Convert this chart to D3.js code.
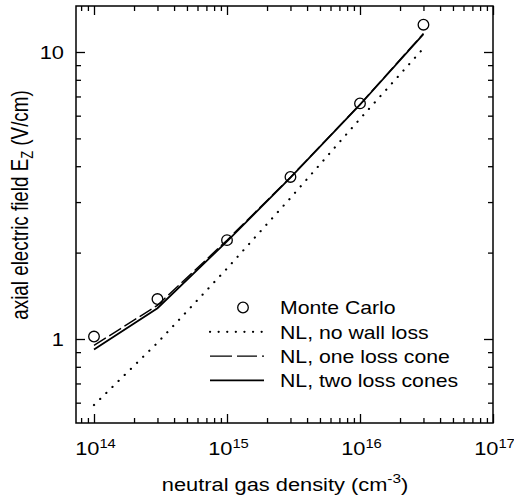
<!DOCTYPE html>
<html>
<head>
    <meta charset="utf-8">
    <title>Axial field vs neutral density</title>
    <script type="text/javascript" src="https://cdn.jsdelivr.net/npm/d3@7"></script>
    <style>
        body { margin: 0; background: #fff; }
        text { font-family: "Liberation Sans", Arial, Helvetica, sans-serif; fill: #000; }
    </style>
</head>

<body>

<script type="text/javascript">
    // data
    var density = [1e14, 3e14, 1e15, 3e15, 1e16, 3e16];
    var monteCarlo = [1.02, 1.378, 2.21, 3.67, 6.62, 12.45];
    var noWallLoss = [0.589, 0.97, 1.76, 3.1, 5.85, 10.3];
    var oneLossCone = [0.95, 1.31, 2.21, 3.66, 6.57, 11.6];
    var twoLossCones = [0.92, 1.28, 2.19, 3.65, 6.55, 11.55];

    var xMajor = [1e14, 1e15, 1e16, 1e17],
        xExponents = ["14", "15", "16", "17"];
    var yMajor = [1, 10],
        yTickLabels = ["1", "10"];
    var legendLabels = ["Monte Carlo", "NL, no wall loss", "NL, one loss cone", "NL, two loss cones"];

    var width = 514,
            height = 501,
            plotL = 76, plotR = 493, plotT = 6, plotB = 423,
            sx = 1.18,
            fontSize = 18.5;

    var svg = d3.select("body").append("svg")
            .attr("width", width)
            .attr("height", height);

    var x = d3.scaleLog()
            .domain([Math.pow(10, 14 - 18 / 133), 1e17])
            .range([plotL, plotR]);

    var y = d3.scaleLog()
            .domain([Math.pow(10, -84 / 287), Math.pow(10, 1 + 46 / 287)])
            .range([plotB, plotT]);

    function minors(lo, hi) {
        var out = [];
        for (var d = -1; d <= 17; d++) {
            for (var k = 2; k <= 9; k++) {
                var v = k * Math.pow(10, d);
                if (v > lo && v < hi) out.push(v);
            }
        }
        return out;
    }

    var xMinor = minors(x.domain()[0], x.domain()[1]);
    var yMinor = minors(y.domain()[0], y.domain()[1]);

    // ticks on all four sides, pointing inward
    function ticks(axisFn, scale, values, size, tx, ty) {
        var g = svg.append("g")
                .attr("transform", "translate(" + tx + "," + ty + ")")
                .call(axisFn(scale).tickValues(values).tickSize(size).tickFormat(""));
        g.select(".domain").remove();
        g.selectAll("line").attr("stroke", "#000").attr("stroke-width", 1.3);
    }
    ticks(d3.axisBottom, x, xMajor, -9, 0, plotB);
    ticks(d3.axisBottom, x, xMinor, -5, 0, plotB);
    ticks(d3.axisTop, x, xMajor, -9, 0, plotT);
    ticks(d3.axisTop, x, xMinor, -5, 0, plotT);
    ticks(d3.axisLeft, y, yMajor, -9, plotL, 0);
    ticks(d3.axisLeft, y, yMinor, -5, plotL, 0);
    ticks(d3.axisRight, y, yMajor, -9, plotR, 0);
    ticks(d3.axisRight, y, yMinor, -5, plotR, 0);

    svg.append("rect")
            .attr("x", plotL).attr("y", plotT)
            .attr("width", plotR - plotL).attr("height", plotB - plotT)
            .attr("fill", "none").attr("stroke", "#000").attr("stroke-width", 1.5);

    // stretched text helper
    function label(px, py, anchor, rot, stretch, size) {
        return svg.append("text")
                .attr("transform", "translate(" + px + "," + py + ") scale(" + (stretch || sx) + ",1)" + (rot ? " rotate(" + rot + ")" : ""))
                .attr("text-anchor", anchor)
                .style("font-size", (size || fontSize) + "px");
    }

    xMajor.forEach(function (v, i) {
        var t = label(x(v) + 1.5, 455, "middle");
        t.append("tspan").text("10");
        t.append("tspan").attr("dy", -7).style("font-size", "12.5px").text(xExponents[i]);
    });

    yMajor.forEach(function (v, i) {
        label(64, y(v) + 6.5, "end").text(yTickLabels[i]);
    });

    var xt = label(285, 491, "middle");
    xt.append("tspan").text("neutral gas density (cm");
    xt.append("tspan").attr("dy", -8).style("font-size", "13px").text("-3");
    xt.append("tspan").attr("dy", 8).text(")");

    var yt = label(28, 205, "middle", -90, 1.3, 18.8);
    yt.append("tspan").text("axial electric field E");
    yt.append("tspan").attr("dy", 4).style("font-size", "13px").text("Z");
    yt.append("tspan").attr("dy", -4).text(" (V/cm)");

    // curves
    var line = d3.line()
            .x(function (d) { return x(d[0]); })
            .y(function (d) { return y(d[1]); });

    function curve(values, dash, w, cap) {
        svg.append("path")
                .datum(d3.zip(density, values))
                .attr("d", line)
                .attr("fill", "none")
                .attr("stroke", "#000")
                .attr("stroke-width", w)
                .attr("stroke-linecap", cap)
                .attr("stroke-dasharray", dash);
    }
    curve(noWallLoss, "0.1,8.5", 2.2, "round");
    curve(oneLossCone, "14,4", 1.4, "butt");
    curve(twoLossCones, null, 1.8, "butt");

    svg.append("g").selectAll("circle")
            .data(d3.zip(density, monteCarlo))
            .enter()
            .append("circle")
            .attr("cx", function (d) { return x(d[0]); })
            .attr("cy", function (d) { return y(d[1]); })
            .attr("r", 5.3)
            .attr("fill", "none")
            .attr("stroke", "#000")
            .attr("stroke-width", 1.3);

    // legend
    var lx0 = 210, lx1 = 264, ly0 = 307.5, ldy = 24.3;
    svg.append("circle")
            .attr("cx", 243).attr("cy", ly0).attr("r", 5.3)
            .attr("fill", "none").attr("stroke", "#000").attr("stroke-width", 1.3);
    var legendStyles = [null, ["0.1,8.5", 2.2, "round"], ["22,5,20,5,2", 1.4, "butt"], [null, 1.8, "butt"]];
    legendStyles.forEach(function (s, i) {
        if (!s) return;
        svg.append("line")
                .attr("x1", lx0).attr("x2", lx1)
                .attr("y1", ly0 + i * ldy).attr("y2", ly0 + i * ldy)
                .attr("stroke", "#000")
                .attr("stroke-width", s[1])
                .attr("stroke-linecap", s[2])
                .attr("stroke-dasharray", s[0]);
    });
    legendLabels.forEach(function (t, i) {
        label(280, ly0 + i * ldy + 6.7, "start", null, sx, 18).text(t);
    });
</script>

</body>

</html>
